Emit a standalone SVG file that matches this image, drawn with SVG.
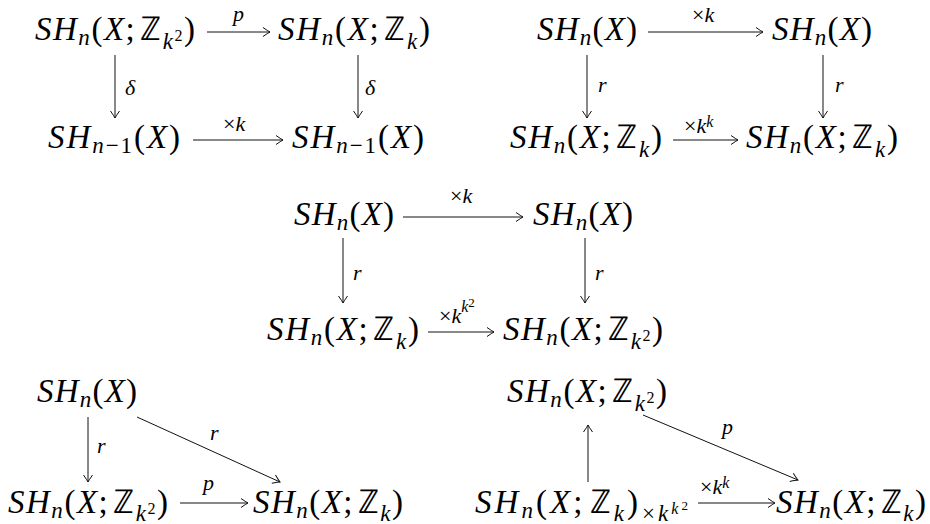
<svg xmlns="http://www.w3.org/2000/svg" width="930" height="524" viewBox="0 0 930 524">
<style>
.m{font-size:33px}
.i{font-style:italic}
.s{font-size:23px}
.ss{font-size:16px}
.sss{font-size:13px}
.z{font-style:normal}
.l{font-size:22px}
.a{stroke:#111;stroke-width:1;fill:none;marker-end:url(#ah)}
</style>
<defs>
<marker id="ah" viewBox="-10 -6 12 12" markerWidth="12" markerHeight="12" refX="0" refY="0" orient="auto" markerUnits="userSpaceOnUse" overflow="visible">
<path d="M-7,-4.5 Q-2,-1 0,0 Q-2,1 -7,4.5" fill="none" stroke="#111" stroke-width="1"/>
</marker>
</defs>

<!-- Diagram 1 -->
<g id="d1-a"><text class="m" style="font-family:'Liberation Serif',serif" x="115" y="40" text-anchor="middle" textLength="160" lengthAdjust="spacing"><tspan class="i">SH</tspan><tspan class="i s" dy="5">n</tspan><tspan dy="-5">(</tspan><tspan class="i">X</tspan><tspan>;</tspan><tspan class="z" dx="4">ℤ</tspan><tspan class="i s" dy="9">k</tspan><tspan class="ss" dy="-8">2</tspan><tspan dy="-1">)</tspan></text></g>
<g id="d1-b"><text class="m" style="font-family:'Liberation Serif',serif" x="354" y="40" text-anchor="middle" textLength="152" lengthAdjust="spacing"><tspan class="i">SH</tspan><tspan class="i s" dy="5">n</tspan><tspan dy="-5">(</tspan><tspan class="i">X</tspan><tspan>;</tspan><tspan class="z" dx="4">ℤ</tspan><tspan class="i s" dy="9">k</tspan><tspan dy="-9">)</tspan></text></g>
<g id="d1-c"><text class="m" style="font-family:'Liberation Serif',serif" x="114" y="148" text-anchor="middle" textLength="132" lengthAdjust="spacing"><tspan class="i">SH</tspan><tspan class="s" dy="5"><tspan class="i">n</tspan>−1</tspan><tspan dy="-5">(</tspan><tspan class="i">X</tspan><tspan>)</tspan></text></g>
<g id="d1-d"><text class="m" style="font-family:'Liberation Serif',serif" x="358" y="148" text-anchor="middle" textLength="132" lengthAdjust="spacing"><tspan class="i">SH</tspan><tspan class="s" dy="5"><tspan class="i">n</tspan>−1</tspan><tspan dy="-5">(</tspan><tspan class="i">X</tspan><tspan>)</tspan></text></g>

<!-- Diagram 2 -->
<g id="d2-a"><text class="m" style="font-family:'Liberation Serif',serif" x="587" y="40" text-anchor="middle" textLength="100" lengthAdjust="spacing"><tspan class="i">SH</tspan><tspan class="i s" dy="5">n</tspan><tspan dy="-5">(</tspan><tspan class="i">X</tspan><tspan>)</tspan></text></g>
<g id="d2-b"><text class="m" style="font-family:'Liberation Serif',serif" x="822" y="40" text-anchor="middle" textLength="100" lengthAdjust="spacing"><tspan class="i">SH</tspan><tspan class="i s" dy="5">n</tspan><tspan dy="-5">(</tspan><tspan class="i">X</tspan><tspan>)</tspan></text></g>
<g id="d2-c"><text class="m" style="font-family:'Liberation Serif',serif" x="586" y="148" text-anchor="middle" textLength="152" lengthAdjust="spacing"><tspan class="i">SH</tspan><tspan class="i s" dy="5">n</tspan><tspan dy="-5">(</tspan><tspan class="i">X</tspan><tspan>;</tspan><tspan class="z" dx="4">ℤ</tspan><tspan class="i s" dy="9">k</tspan><tspan dy="-9">)</tspan></text></g>
<g id="d2-d"><text class="m" style="font-family:'Liberation Serif',serif" x="822" y="148" text-anchor="middle" textLength="152" lengthAdjust="spacing"><tspan class="i">SH</tspan><tspan class="i s" dy="5">n</tspan><tspan dy="-5">(</tspan><tspan class="i">X</tspan><tspan>;</tspan><tspan class="z" dx="4">ℤ</tspan><tspan class="i s" dy="9">k</tspan><tspan dy="-9">)</tspan></text></g>

<!-- Diagram 3 -->
<g id="d3-a"><text class="m" style="font-family:'Liberation Serif',serif" x="344" y="225" text-anchor="middle" textLength="100" lengthAdjust="spacing"><tspan class="i">SH</tspan><tspan class="i s" dy="5">n</tspan><tspan dy="-5">(</tspan><tspan class="i">X</tspan><tspan>)</tspan></text></g>
<g id="d3-b"><text class="m" style="font-family:'Liberation Serif',serif" x="583" y="225" text-anchor="middle" textLength="100" lengthAdjust="spacing"><tspan class="i">SH</tspan><tspan class="i s" dy="5">n</tspan><tspan dy="-5">(</tspan><tspan class="i">X</tspan><tspan>)</tspan></text></g>
<g id="d3-c"><text class="m" style="font-family:'Liberation Serif',serif" x="343" y="340" text-anchor="middle" textLength="152" lengthAdjust="spacing"><tspan class="i">SH</tspan><tspan class="i s" dy="5">n</tspan><tspan dy="-5">(</tspan><tspan class="i">X</tspan><tspan>;</tspan><tspan class="z" dx="4">ℤ</tspan><tspan class="i s" dy="9">k</tspan><tspan dy="-9">)</tspan></text></g>
<g id="d3-d"><text class="m" style="font-family:'Liberation Serif',serif" x="583" y="340" text-anchor="middle" textLength="160" lengthAdjust="spacing"><tspan class="i">SH</tspan><tspan class="i s" dy="5">n</tspan><tspan dy="-5">(</tspan><tspan class="i">X</tspan><tspan>;</tspan><tspan class="z" dx="4">ℤ</tspan><tspan class="i s" dy="9">k</tspan><tspan class="ss" dy="-8">2</tspan><tspan dy="-1">)</tspan></text></g>

<!-- Diagram 4 -->
<g id="d4-a"><text class="m" style="font-family:'Liberation Serif',serif" x="87" y="402" text-anchor="middle" textLength="100" lengthAdjust="spacing"><tspan class="i">SH</tspan><tspan class="i s" dy="5">n</tspan><tspan dy="-5">(</tspan><tspan class="i">X</tspan><tspan>)</tspan></text></g>
<g id="d4-b"><text class="m" style="font-family:'Liberation Serif',serif" x="88" y="513" text-anchor="middle" textLength="160" lengthAdjust="spacing"><tspan class="i">SH</tspan><tspan class="i s" dy="5">n</tspan><tspan dy="-5">(</tspan><tspan class="i">X</tspan><tspan>;</tspan><tspan class="z" dx="4">ℤ</tspan><tspan class="i s" dy="8">k</tspan><tspan class="ss" dy="-7">2</tspan><tspan dy="-1">)</tspan></text></g>
<g id="d4-c"><text class="m" style="font-family:'Liberation Serif',serif" x="328" y="513" text-anchor="middle" textLength="150" lengthAdjust="spacing"><tspan class="i">SH</tspan><tspan class="i s" dy="5">n</tspan><tspan dy="-5">(</tspan><tspan class="i">X</tspan><tspan>;</tspan><tspan class="z" dx="4">ℤ</tspan><tspan class="i s" dy="8">k</tspan><tspan dy="-8">)</tspan></text></g>

<!-- Diagram 5 -->
<g id="d5-a"><text class="m" style="font-family:'Liberation Serif',serif" x="587" y="402" text-anchor="middle" textLength="160" lengthAdjust="spacing"><tspan class="i">SH</tspan><tspan class="i s" dy="5">n</tspan><tspan dy="-5">(</tspan><tspan class="i">X</tspan><tspan>;</tspan><tspan class="z" dx="4">ℤ</tspan><tspan class="i s" dy="9">k</tspan><tspan class="ss" dy="-8">2</tspan><tspan dy="-1">)</tspan></text></g>
<g id="d5-b"><text class="m" style="font-family:'Liberation Serif',serif" x="475" y="513" textLength="213" lengthAdjust="spacing"><tspan class="i">SH</tspan><tspan class="i s" dy="5">n</tspan><tspan dy="-5">(</tspan><tspan class="i">X</tspan><tspan>;</tspan><tspan class="z" dx="4">ℤ</tspan><tspan class="i s" dy="8">k</tspan><tspan dy="-8">)</tspan><tspan class="s" dx="1" dy="8">×</tspan><tspan class="i s">k</tspan><tspan class="i ss" dy="-7">k</tspan><tspan class="sss" dy="-4">2</tspan></text></g>
<g id="d5-c"><text class="m" style="font-family:'Liberation Serif',serif" x="851" y="513" text-anchor="middle" textLength="150" lengthAdjust="spacing"><tspan class="i">SH</tspan><tspan class="i s" dy="5">n</tspan><tspan dy="-5">(</tspan><tspan class="i">X</tspan><tspan>;</tspan><tspan class="z" dx="4">ℤ</tspan><tspan class="i s" dy="8">k</tspan><tspan dy="-8">)</tspan></text></g>

<!-- Connectors -->
<g id="connectors">
<path class="a" d="M207,32H270"/>
<path class="a" d="M115,55V118"/>
<path class="a" d="M358,55V118"/>
<path class="a" d="M193,140H283"/>

<path class="a" d="M648,32H763"/>
<path class="a" d="M587,55V118"/>
<path class="a" d="M823,55V118"/>
<path class="a" d="M673,140H738"/>

<path class="a" d="M403,217H523"/>
<path class="a" d="M343,238V303"/>
<path class="a" d="M585,238V303"/>
<path class="a" d="M428,332H494"/>

<path class="a" d="M88,417V482"/>
<path class="a" d="M137,417L280,482"/>
<path class="a" d="M180,503H248"/>

<path class="a" d="M588,482V425"/>
<path class="a" d="M643,415L798,480"/>
<path class="a" d="M698,503H775"/>

<text class="l i" style="font-family:'Liberation Serif',serif" x="233" y="21">p</text>
<text class="l i" style="font-family:'Liberation Serif',serif" x="125" y="95">δ</text>
<text class="l i" style="font-family:'Liberation Serif',serif" x="365" y="95">δ</text>
<text class="l" style="font-family:'Liberation Serif',serif" x="223" y="131">×<tspan class="i">k</tspan></text>

<text class="l" style="font-family:'Liberation Serif',serif" x="692" y="22">×<tspan class="i">k</tspan></text>
<text class="l i" style="font-family:'Liberation Serif',serif" x="598" y="92">r</text>
<text class="l i" style="font-family:'Liberation Serif',serif" x="835" y="92">r</text>
<text class="l" style="font-family:'Liberation Serif',serif" x="684" y="133">×<tspan class="i">k</tspan><tspan class="i ss" dy="-6">k</tspan></text>

<text class="l" style="font-family:'Liberation Serif',serif" x="450" y="203">×<tspan class="i">k</tspan></text>
<text class="l i" style="font-family:'Liberation Serif',serif" x="353" y="280">r</text>
<text class="l i" style="font-family:'Liberation Serif',serif" x="595" y="280">r</text>
<text class="l" style="font-family:'Liberation Serif',serif" x="439" y="323">×<tspan class="i">k</tspan><tspan class="i ss" dy="-11">k</tspan><tspan class="sss" dy="-5">2</tspan></text>

<text class="l i" style="font-family:'Liberation Serif',serif" x="97" y="453">r</text>
<text class="l i" style="font-family:'Liberation Serif',serif" x="210" y="440">r</text>
<text class="l i" style="font-family:'Liberation Serif',serif" x="203" y="490">p</text>

<text class="l i" style="font-family:'Liberation Serif',serif" x="722" y="434">p</text>
<text class="l" style="font-family:'Liberation Serif',serif" x="700" y="494">×<tspan class="i">k</tspan><tspan class="i ss" dy="-6">k</tspan></text>
</g>
</svg>
